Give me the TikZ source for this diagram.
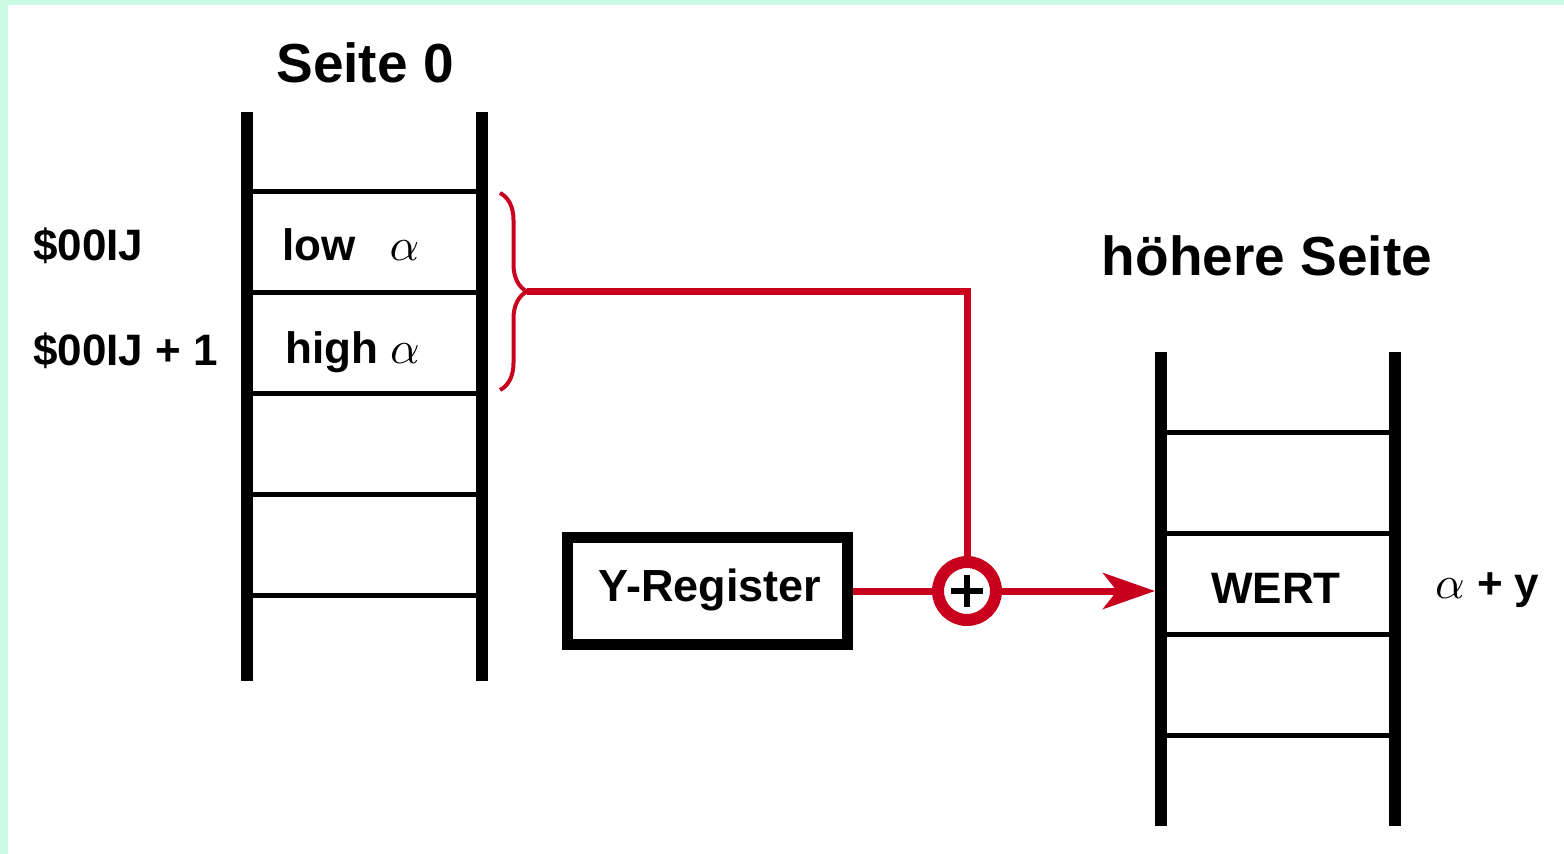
\documentclass[tikz,border=0pt]{standalone}
\usepackage{graphicx}
\usepackage{fontspec}
\setmainfont{Liberation Sans}
\usetikzlibrary{arrows.meta,decorations.pathreplacing,positioning}

\definecolor{mint}{HTML}{CCFAE3}
\definecolor{mred}{HTML}{C8001E}
\newcommand{\alf}{\scalebox{4.6}{\normalsize\(\alpha\)}}

\begin{document}
\begin{tikzpicture}[x=1pt, y=-1pt,
  rail/.style = {line width=12pt},
  rung/.style = {line width=5pt},
  lbl/.style = {font=\bfseries\fontsize{44pt}{52pt}\selectfont, inner sep=0pt},
  head/.style = {font=\bfseries\fontsize{55pt}{64pt}\selectfont, inner sep=0pt},
  redline/.style = {draw=mred, line width=7pt}]

% page with the mint strips
\useasboundingbox (0,0) rectangle (1564,854);
\fill[white] (0,0) rectangle (1564,854);
\fill[mint] (0,0) rectangle (8,854);
\fill[mint] (0,0) rectangle (1564,5);

% zero page
\draw[rail] (247,112) -- (247,681);
\draw[rail] (482,112) -- (482,681);
\foreach \y in {191,292,393,494,595}
  \draw[rung] (247,\y) -- (482,\y);
\node[head, anchor=base] (seite0) at (365,82) {Seite 0};
\node[lbl, anchor=base west] (lowa) at (282,260) {low\hspace{34pt}\alf};
\node[lbl, anchor=base west] (higha) at (285,363) {high\hspace{12pt}\alf};
\node[lbl, anchor=base west] (adr) at (33,260) {\$00IJ};
\node[lbl, anchor=base west] (adr1) at (33,365) {\$00IJ + 1};

% higher page
\draw[rail] (1161,352) -- (1161,826);
\draw[rail] (1395,352) -- (1395,826);
\foreach \y in {432,533,634,735}
  \draw[rung] (1161,\y) -- (1395,\y);
\node[head, anchor=base] (hoehere) at (1267,275) {höhere Seite};
\node[lbl, anchor=base] (wert) at (1276,603) {WERT};
\node[lbl, anchor=base west] (summe) at (1435,598) {\alf{} + y};

% register and adder
\node[draw, line width=11pt, minimum width=280pt, minimum height=107pt,
      inner sep=0pt] (yreg) at (707,591) {};
\node[lbl, font=\bfseries\fontsize{45pt}{52pt}\selectfont, anchor=base]
  at (710,601) {Y-Register};
\node[circle, draw=mred, line width=12pt, minimum size=58pt,
      inner sep=0pt] (plus) at (967,591) {};
\draw[line width=6pt] ([xshift=-16pt]plus.center) -- ([xshift=16pt]plus.center);
\draw[line width=6pt] ([yshift=-16pt]plus.center) -- ([yshift=16pt]plus.center);
\coordinate (ziel) at (1155,591);

% pointer bracket and data path
\draw[mred, line width=4pt, decorate,
      decoration={brace, amplitude=27pt}] (500,193) -- (500,390);
\coordinate (spitze) at (527,291);
\draw[redline] (spitze) -| (plus.north);
\draw[redline] (yreg.east) -- (plus.west);
\draw[redline, -{Stealth[length=52pt, width=36pt, inset=14pt]}] (plus.east) -- (ziel);

\end{tikzpicture}
\end{document}
